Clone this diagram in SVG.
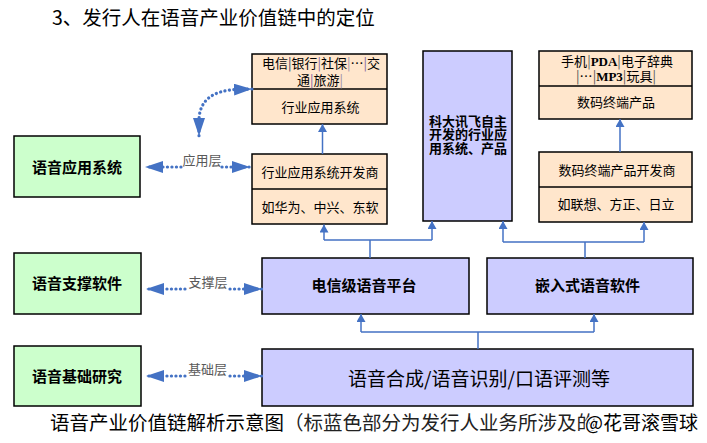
<svg xmlns="http://www.w3.org/2000/svg" width="707" height="443" viewBox="0 0 707 443">
<style>
  text { font-family: "Noto Sans CJK SC", "Liberation Sans", sans-serif; fill: #000; }
  .box { stroke: #000; stroke-width: 1.5; }
  .green { fill: #CCFFCC; }
  .peach { fill: #FFE6CC; }
  .blue { fill: #CCCCFF; }
  .div { stroke: #000; stroke-width: 1.5; }
  .lbl15 { font-size: 15px; font-weight: bold; text-anchor: middle; }
  .lbl13 { font-size: 13px; text-anchor: middle; }
  .lbl13b { font-size: 13px; font-weight: bold; }
  .conn { fill: none; stroke: #4472C4; stroke-width: 1.5; }
  .arr { fill: none; stroke: #4472C4; stroke-width: 1.5; marker-end: url(#smallHead); }
  .dot { fill: none; stroke: #4472C4; stroke-width: 3.2; stroke-linecap: round; stroke-dasharray: 0.1 4.4; }
  .layer { font-size: 13px; fill: #595959; text-anchor: middle; }
  .bar { fill: #7F5FA0; }
  .latin { font-family: "Liberation Serif", serif; font-weight: bold; }
</style>
<defs>
  <marker id="smallHead" viewBox="0 0 8 9" refX="8" refY="4.5" markerWidth="8" markerHeight="9" markerUnits="userSpaceOnUse" orient="auto">
    <path d="M0,0 L8,4.5 L0,9 z" fill="#4472C4"/>
  </marker>
  <marker id="bigHead" viewBox="0 0 18 12" refX="18" refY="6" markerWidth="18" markerHeight="12" markerUnits="userSpaceOnUse" orient="auto-start-reverse">
    <path d="M0,0 L18,6 L0,12 z" fill="#4472C4"/>
  </marker>
</defs>

<text x="52" y="25" font-size="19.5">3、发行人在语音产业价值链中的定位</text>

<g id="app-system">
  <rect class="box green" x="14" y="136" width="126" height="61"/>
  <text class="lbl15" x="77" y="172.5">语音应用系统</text>
</g>
<g id="support-software">
  <rect class="box green" x="14" y="253" width="127" height="61"/>
  <text class="lbl15" x="77" y="289">语音支撑软件</text>
</g>
<g id="basic-research">
  <rect class="box green" x="14" y="346" width="127" height="60"/>
  <text class="lbl15" x="77" y="382">语音基础研究</text>
</g>

<g id="industry-apps">
  <rect class="box peach" x="252" y="54" width="135" height="70"/>
  <line class="div" x1="252" y1="89" x2="387" y2="89"/>
  <text class="lbl13" font-size="12.5"><tspan x="321" y="68">电信<tspan fill="#1F3864">|</tspan>银行<tspan class="bar">|</tspan>社保<tspan fill="#9A8FA8">|</tspan>…<tspan class="bar">|</tspan>交</tspan><tspan x="320" y="85">通<tspan class="bar">|</tspan>旅游<tspan fill="#9A8FA8">|</tspan></tspan></text>
  <text class="lbl13" x="320.5" y="112">行业应用系统</text>
</g>
<g id="industry-dev">
  <rect class="box peach" x="252" y="154" width="135" height="70"/>
  <line class="div" x1="252" y1="189" x2="387" y2="189"/>
  <text class="lbl13" x="320" y="177">行业应用系统开发商</text>
  <text class="lbl13" x="320" y="211.5">如华为、中兴、东软</text>
</g>

<g id="iflytek">
  <rect class="box blue" x="423" y="51" width="89" height="170"/>
  <text class="lbl13b"><tspan x="429" y="125.5">科大讯飞自主</tspan><tspan x="429" y="139">开发的行业应</tspan><tspan x="429" y="153">用系统、产品</tspan></text>
</g>

<g id="digital-products">
  <rect class="box peach" x="539" y="51" width="153" height="68"/>
  <line class="div" x1="539" y1="86" x2="692" y2="86"/>
  <text class="lbl13"><tspan x="617" y="66">手机<tspan fill="#555">|</tspan><tspan class="latin">PDA</tspan><tspan fill="#555">|</tspan>电子辞典</tspan><tspan x="616" y="81"><tspan fill="#555">|</tspan>…<tspan fill="#555">|</tspan><tspan class="latin">MP3</tspan><tspan fill="#555">|</tspan>玩具<tspan fill="#555">|</tspan></tspan></text>
  <text class="lbl13" x="616" y="107">数码终端产品</text>
</g>
<g id="digital-dev">
  <rect class="box peach" x="539" y="152" width="153" height="70"/>
  <line class="div" x1="539" y1="187" x2="692" y2="187"/>
  <text class="lbl13" x="617" y="175">数码终端产品开发商</text>
  <text class="lbl13" x="616" y="209">如联想、方正、日立</text>
</g>

<g id="telecom-platform">
  <rect class="box blue" x="262" y="258" width="207" height="56"/>
  <text class="lbl15" x="364" y="291">电信级语音平台</text>
</g>
<g id="embedded-software">
  <rect class="box blue" x="487" y="258" width="206" height="56"/>
  <text class="lbl15" x="587.5" y="291">嵌入式语音软件</text>
</g>
<g id="speech-core">
  <rect class="box blue" x="262" y="349" width="431" height="57"/>
  <text x="479" y="385.5" font-size="19" text-anchor="middle">语音合成/语音识别/口语评测等</text>
</g>

<g id="connectors">
  <path class="arr" d="M322.5,154 L322.5,124"/>
  <path class="arr" d="M620,152 L620,119"/>
  <path class="conn" d="M370,258 L370,240 M324,240 L432,240"/>
  <path class="arr" d="M324,240 L324,224.5"/>
  <path class="arr" d="M432,240 L432,221"/>
  <path class="conn" d="M585,258 L585,242 M503,242 L644,242"/>
  <path class="arr" d="M503,242 L503,221"/>
  <path class="arr" d="M644,242 L644,222"/>
  <path class="conn" d="M478,349 L478,332 M361,332 L594,332"/>
  <path class="arr" d="M361,332 L361,314"/>
  <path class="arr" d="M594,332 L594,314"/>

  <path class="dot" d="M252,89 L237,89.5 Q199,91 199,121 L199,136" marker-start="url(#bigHead)" marker-end="url(#bigHead)"/>
  <path class="dot" d="M181,167 L145,167" marker-end="url(#bigHead)"/>
  <path class="dot" d="M222,167 L250,167" marker-end="url(#bigHead)"/>
  <text class="layer" x="202" y="164.5">应用层</text>
  <path class="dot" d="M185,289 L146,289" marker-end="url(#bigHead)"/>
  <path class="dot" d="M230,289 L262,289" marker-end="url(#bigHead)"/>
  <text class="layer" x="208" y="287">支撑层</text>
  <path class="dot" d="M185,376 L146,376" marker-end="url(#bigHead)"/>
  <path class="dot" d="M230,376 L262,376" marker-end="url(#bigHead)"/>
  <text class="layer" x="207.5" y="373.5">基础层</text>
</g>

<text x="50" y="430" font-size="19.5">语音产业价值链解析示意图<tspan fill="#222">（标蓝色部分为发行人业务所涉及的</tspan></text>
<text x="585" y="430" font-size="19" fill="#3a3a3a" stroke="#fff" stroke-width="2.5" paint-order="stroke">@花哥滚雪球</text>
</svg>
